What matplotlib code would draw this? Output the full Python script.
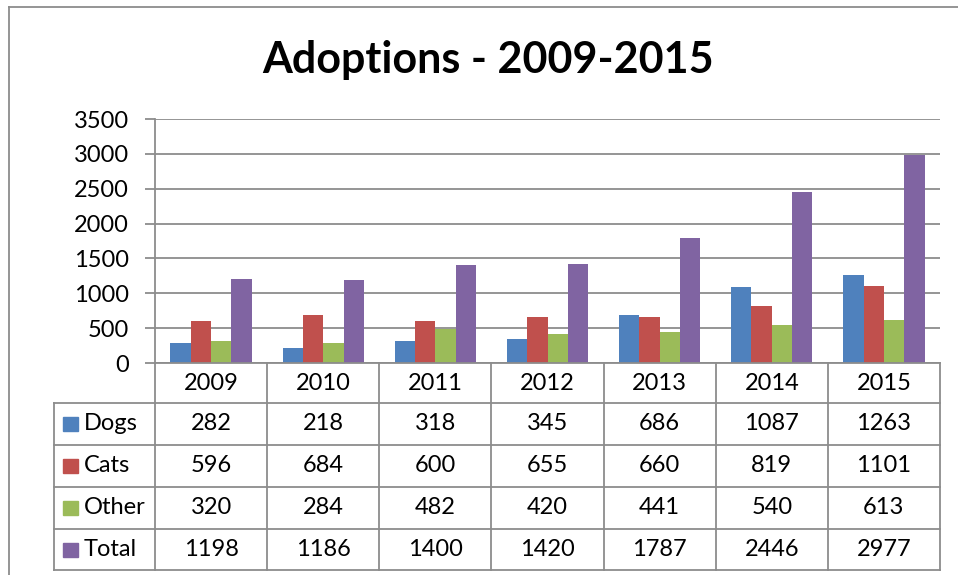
import matplotlib
matplotlib.use("Agg")
import matplotlib.pyplot as plt
import matplotlib.transforms as mtransforms
from matplotlib.lines import Line2D
from matplotlib.patches import Rectangle

years = ["2009", "2010", "2011", "2012", "2013", "2014", "2015"]
series = ["Dogs", "Cats", "Other", "Total"]
dogs = [282, 218, 318, 345, 686, 1087, 1263]
cats = [596, 684, 600, 655, 660, 819, 1101]
other = [320, 284, 482, 420, 441, 540, 613]
total = [1198, 1186, 1400, 1420, 1787, 2446, 2977]
colors = ["#4F81BD", "#C0504D", "#9BBB59", "#8064A2"]
yticks = [0, 500, 1000, 1500, 2000, 2500, 3000, 3500]

plt.rcParams["font.family"] = ["Lato", "DejaVu Sans"]
W, H = 958, 575
fig = plt.figure(figsize=(W / 100, H / 100), dpi=100)
grey = "#8c8c8c"

def fx(px):
    return px / W

def fy(py):
    return 1 - py / H

# plot area in pixels
left, right, top, bottom = 155, 940, 119, 363
ax = fig.add_axes([fx(left), fy(bottom), fx(right - left), fy(top) - fy(bottom)])

n = len(years)
width = 0.181
values = [dogs, cats, other, total]
for i, vals in enumerate(values):
    xs = [j + (i - 1.5) * width for j in range(n)]
    ax.bar(xs, vals, width=width, color=colors[i], zorder=3)

ax.set_xlim(-0.5, n - 0.5)
ax.set_ylim(0, 3500)
ax.set_yticks(yticks)
ax.set_yticklabels([str(t) for t in yticks], fontsize=17)
ax.set_xticks([])
ax.yaxis.grid(True, color=grey, linewidth=1.3, zorder=0)
for s in ["top", "right", "bottom"]:
    ax.spines[s].set_visible(False)
ax.spines["left"].set_color(grey)
ax.spines["left"].set_linewidth(1.3)
ax.tick_params(axis="y", length=7, width=1.3, color=grey, pad=12, labelcolor="black")

# title
fig.text(fx(488), fy(60), "Adoptions - 2009-2015", fontsize=31, fontweight="bold",
         ha="center", va="center")

# outer frame (left and top visible)
fig.add_artist(Line2D([fx(9), fx(9)], [fy(7), 0], color=grey, lw=1.3))
fig.add_artist(Line2D([fx(9), 1], [fy(7), fy(7)], color=grey, lw=1.3))

# data table
tr = mtransforms.blended_transform_factory(ax.transData, fig.transFigure)
row_y = [363, 403, 445, 487, 529, 570]
label_left = -0.5 - (left - 54) / ((right - left) / n)
x_end = n - 0.5

def hline(x0, x1, py):
    fig.add_artist(Line2D([x0, x1], [fy(py), fy(py)], color=grey, lw=1.3, transform=tr))

def vline(x, py0, py1):
    fig.add_artist(Line2D([x, x], [fy(py0), fy(py1)], color=grey, lw=1.3, transform=tr))

hline(-0.5, x_end, row_y[0])
for py in row_y[1:]:
    hline(label_left, x_end, py)
vline(label_left, row_y[1], row_y[-1])
for k in range(n + 1):
    vline(-0.5 + k, row_y[0], row_y[-1])

fs = 17
for j, yr in enumerate(years):
    fig.text(j, fy((row_y[0] + row_y[1]) / 2), yr, fontsize=fs, ha="center",
             va="center", transform=tr)

px_unit = (right - left) / n
for r, name in enumerate(series):
    cy = (row_y[r + 1] + row_y[r + 2]) / 2
    sq_x = label_left + 9 / px_unit
    fig.add_artist(Rectangle((sq_x, fy(cy + 7)), 15 / px_unit, 14 / H,
                             color=colors[r], transform=tr))
    fig.text(label_left + 30 / px_unit, fy(cy), name, fontsize=fs, ha="left",
             va="center", transform=tr)
    for j in range(n):
        fig.text(j, fy(cy), str(values[r][j]), fontsize=fs, ha="center",
                 va="center", transform=tr)

fig.savefig("out.png", dpi=100)
